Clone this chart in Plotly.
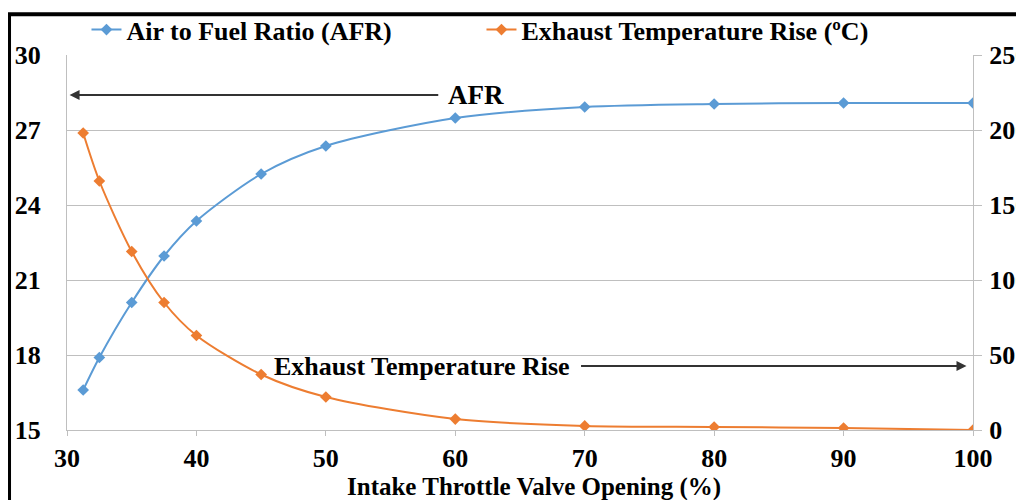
import plotly.graph_objects as go

throttle = [31.25, 32.5, 35, 37.5, 40, 45, 50, 60, 70, 80, 90, 100]
afr = [16.6, 17.9, 20.1, 21.96, 23.36, 25.24, 26.36, 27.48, 27.92, 28.04, 28.08, 28.08]
exhaust_rise = [198, 166, 119, 85, 63, 37, 22, 7.3, 2.7, 2.0, 1.3, 0]

left_ticks = [15, 18, 21, 24, 27, 30]
right_ticks = [0, 50, 100, 150, 200, 250]
x_ticks = [30, 40, 50, 60, 70, 80, 90, 100]

BLUE = "#5B9BD5"
ORANGE = "#ED7D31"
FONT = "Liberation Serif"

fig = go.Figure()
fig.add_trace(go.Scatter(
    x=throttle, y=afr, name="Air to Fuel Ratio (AFR)", mode="lines+markers",
    line=dict(color=BLUE, width=2, shape="spline", smoothing=0.8),
    marker=dict(symbol="diamond", size=9, color=BLUE),
    yaxis="y"))
fig.add_trace(go.Scatter(
    x=throttle, y=exhaust_rise, name="Exhaust Temperature Rise (ºC)", mode="lines+markers",
    line=dict(color=ORANGE, width=2, shape="spline", smoothing=0.8),
    marker=dict(symbol="diamond", size=9, color=ORANGE),
    yaxis="y2"))

tickfont = dict(family=FONT, size=26, color="black", weight="bold")

fig.update_layout(
    width=1016, height=492,
    margin=dict(l=59, r=51, t=47, b=70, autoexpand=False),
    paper_bgcolor="white", plot_bgcolor="white",
    showlegend=True,
    legend=dict(orientation="h", x=0.0215, xanchor="left", y=1.005, yanchor="bottom",
                font=dict(family=FONT, size=26, color="black", weight="bold"),
                bgcolor="rgba(0,0,0,0)", itemwidth=30, tracegroupgap=0,
                entrywidth=350, entrywidthmode="pixels"),
    xaxis=dict(range=[30, 100], tickvals=x_ticks, tickfont=tickfont,
               showgrid=False, showline=True, linecolor="#BFBFBF", linewidth=1,
               ticks="outside", tickcolor="#BFBFBF", ticklen=5, zeroline=False,
               automargin=False),
    yaxis=dict(range=[15, 30], tickvals=left_ticks, tickfont=tickfont,
               showgrid=True, gridcolor="#BFBFBF", gridwidth=1, automargin=False,
               showline=True, linecolor="#BFBFBF", linewidth=1, zeroline=False,
               ticks="", ticklabelstandoff=20),
    yaxis2=dict(range=[0, 250], tickvals=right_ticks, tickfont=tickfont,
                overlaying="y", side="right", showgrid=False, automargin=False,
                showline=True, linecolor="#BFBFBF", linewidth=1, zeroline=False,
                ticks="outside", tickcolor="#BFBFBF", ticklen=8, ticklabelstandoff=2),
)

# x axis title (positioned like the reference)
fig.add_annotation(x=0.5155, y=-0.151, xref="paper", yref="paper",
                   text="Intake Throttle Valve Opening (%)", showarrow=False,
                   xanchor="center", yanchor="middle",
                   font=dict(family=FONT, size=25, color="black", weight="bold"))

# arrows and labels
fig.add_annotation(x=30.2, y=28.4, ax=58.8, ay=28.4, xref="x", yref="y", axref="x", ayref="y",
                   text="", showarrow=True, arrowhead=2, arrowsize=1, arrowwidth=2, arrowcolor="#333333")
fig.add_annotation(x=61.6, y=28.4, xref="x", yref="y", text="AFR", showarrow=False,
                   font=dict(family=FONT, size=27, color="black", weight="bold"))
fig.add_annotation(x=99.5, y=17.56, ax=69.6, ay=17.56, xref="x", yref="y", axref="x", ayref="y",
                   text="", showarrow=True, arrowhead=2, arrowsize=1, arrowwidth=2, arrowcolor="#333333")
fig.add_annotation(x=57.4, y=17.56, xref="x", yref="y", text="Exhaust Temperature Rise",
                   showarrow=False, xanchor="center",
                   font=dict(family=FONT, size=26, color="black", weight="bold"))

# outer frame
fig.add_shape(type="rect", xref="paper", yref="paper", x0=-0.064, y0=-0.4, x1=1.2, y1=1.109,
              line=dict(color="black", width=4), fillcolor="rgba(0,0,0,0)", layer="above")

fig.write_html("out.html")
